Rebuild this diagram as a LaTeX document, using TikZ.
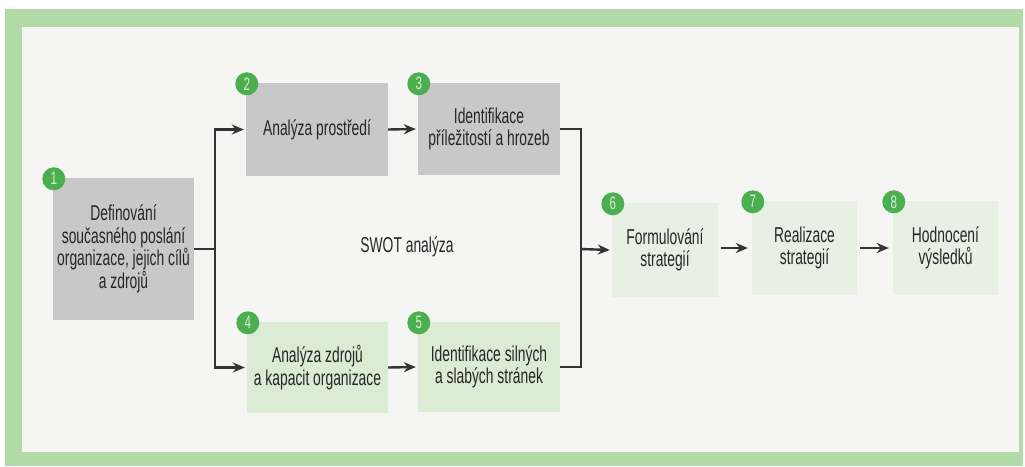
\documentclass[tikz,border=0pt]{standalone}
\usepackage{fontspec}
\setmainfont{Liberation Sans}[FakeStretch=0.645]
\usetikzlibrary{arrows.meta}
\definecolor{frameg}{HTML}{B2DAA6}
\definecolor{innerw}{HTML}{F5F5F3}
\definecolor{boxgrey}{HTML}{C8C8C8}
\definecolor{boxgreen}{HTML}{DCEBD4}
\definecolor{boxpale}{HTML}{E8F0E4}
\definecolor{badgeg}{HTML}{4CAF4F}
\definecolor{badgetext}{HTML}{D8EED2}
\definecolor{linec}{HTML}{333333}
\definecolor{textc}{HTML}{262626}
\tikzset{
  stepbox/.style={inner sep=0pt, align=center, text=textc,
    font=\fontsize{21.5}{22.5}\selectfont},
  greybox/.style={stepbox, fill=boxgrey},
  greenbox/.style={stepbox, fill=boxgreen},
  palebox/.style={stepbox, fill=boxpale},
  badge/.style={circle, fill=badgeg, minimum size=23pt, inner sep=0pt,
    text=badgetext, font=\fontsize{18}{18}\selectfont},
  conn/.style={draw=linec, line width=2.4pt},
  arr/.style={conn, -{Stealth[length=12pt,width=10pt]}},
}
\begin{document}
\begin{tikzpicture}[x=1pt,y=-1pt]
\useasboundingbox (0,0) rectangle (1025,466);
\fill[white] (0,0) rectangle (1025,466);
\fill[frameg] (5,9) rectangle (1023,466);
\fill[innerw] (22,27) rectangle (1019,452);

\node[greybox, minimum width=141pt, minimum height=142pt] (b1) at (123.5,249) {Definování\\současného poslání\\organizace, jejich cílů\\a zdrojů};
\node[greybox, minimum width=142pt, minimum height=93pt] (b2) at (317,129.5) {Analýza prostředí};
\node[greybox, minimum width=142pt, minimum height=92pt] (b3) at (489,129) {Identifikace\\příležitostí a hrozeb};
\node[greenbox, minimum width=141pt, minimum height=91pt] (b4) at (317.5,367.5) {Analýza zdrojů\\a kapacit organizace};
\node[greenbox, minimum width=142pt, minimum height=90pt] (b5) at (489,367) {Identifikace silných\\a slabých stránek};
\node[palebox, minimum width=106pt, minimum height=94pt] (b6) at (665,250) {Formulování\\strategií};
\node[palebox, minimum width=105pt, minimum height=94pt] (b7) at (804.5,248) {Realizace\\strategií};
\node[palebox, minimum width=105pt, minimum height=94pt] (b8) at (945.5,248) {Hodnocení\\výsledků};

\node[stepbox] (swot) at (407,247) {SWOT analýza};

\foreach \b/\n in {b1/1,b2/2,b3/3,b4/4,b5/5,b6/6,b7/7,b8/8}
  \node[badge] (k\n) at ([xshift=1pt,yshift=-1pt]\b.north west) {\n};

\coordinate (jL) at (215,249);
\coordinate (jR) at (581,249);
\draw[conn] (b1.east |- jL) -- (jL);
\draw[arr] (jL) |- ([xshift=-2pt]b2.west);
\draw[arr] (jL) |- ([xshift=-2pt]b4.west);
\draw[arr] (b2.east) -- ([xshift=-2pt]b3.west);
\draw[arr] (b4.east) -- ([xshift=-2pt]b5.west);
\draw[conn] (b3.east) -| (jR) |- (b5.east);
\draw[arr] (jR) -- ([xshift=-2pt]b6.west);
\draw[arr] ([xshift=3pt]b6.east |- b7.west) -- ([xshift=-4pt]b7.west);
\draw[arr] ([xshift=3pt]b7.east) -- ([xshift=-4pt]b8.west);
\end{tikzpicture}
\end{document}
